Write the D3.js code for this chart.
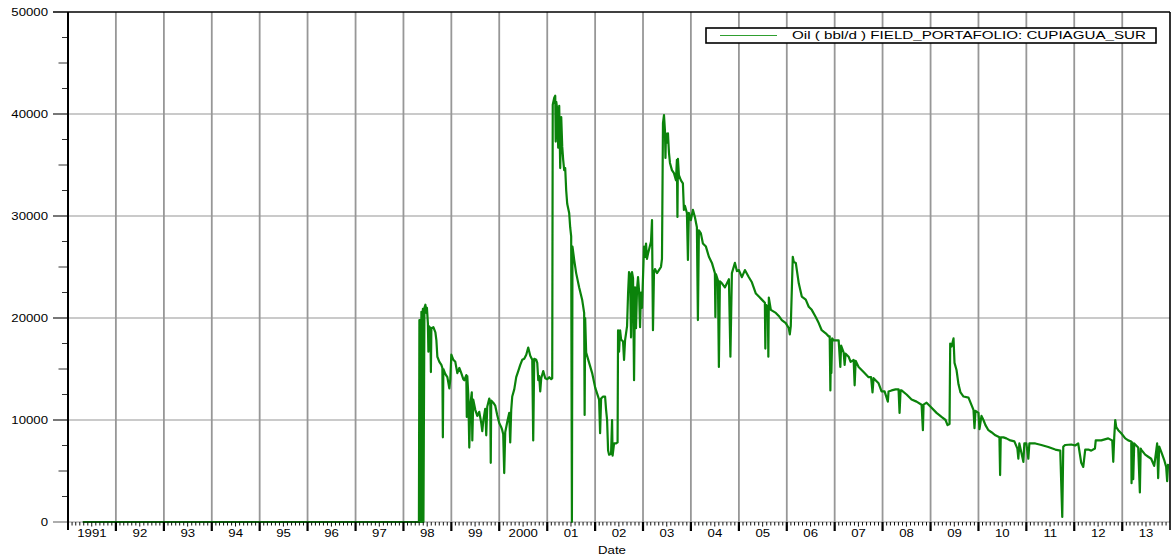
<!DOCTYPE html>
<html>
<head>
<meta charset="utf-8">
<script src="https://cdn.jsdelivr.net/npm/d3@7"></script>
<style>
  html, body { margin: 0; padding: 0; background: #fff; }
  svg { display: block; }
  text { font-family: "Liberation Sans", Arial, Helvetica, sans-serif; fill: #000; }
</style>
</head>
<body>
<svg id="chart" width="1173" height="557"></svg>
<script>
// ---------------- DATA ----------------
const seriesName = "Oil ( bbl/d ) FIELD_PORTAFOLIO: CUPIAGUA_SUR";
const axisTitle = "Date";
const yearLabels = ["1991","92","93","94","95","96","97","98","99","2000",
                    "01","02","03","04","05","06","07","08","09","10","11","12","13"];
const yTickValues = [0, 10000, 20000, 30000, 40000, 50000];

// [decimal year, oil rate bbl/d]
const oilPreProduction = [
  [1991.31, 0], [1998.323, 0]
];
const oil1998to2000 = [
  [1998.333,19800],[1998.348,19800],[1998.354,0],[1998.375,20600],[1998.385,0],
  [1998.406,20900],[1998.417,0],[1998.438,21000],[1998.458,21300],[1998.479,20500],
  [1998.490,21000],[1998.510,19500],[1998.521,16700],[1998.531,19200],[1998.563,19000],
  [1998.573,14700],[1998.583,19000],[1998.625,19100],[1998.667,18600],[1998.688,17800],
  [1998.708,16200],[1998.750,15700],[1998.792,15400],[1998.813,15100],[1998.823,8300],
  [1998.833,15000],[1998.875,14500],[1998.917,14200],[1998.958,13100],[1998.979,14000],
  [1999.000,16400],[1999.042,15900],[1999.083,15700],[1999.125,14600],[1999.167,15100],
  [1999.208,14600],[1999.250,14000],[1999.271,13900],[1999.313,14400],[1999.323,10300],
  [1999.333,14300],[1999.354,12500],[1999.375,7300],[1999.396,11500],[1999.427,12700],
  [1999.438,8000],[1999.458,12000],[1999.500,11000],[1999.542,10400],[1999.583,10800],
  [1999.625,9700],[1999.646,8900],[1999.667,9900],[1999.708,11100],[1999.729,8500],
  [1999.750,11300],[1999.792,12100],[1999.813,11600],[1999.823,5800],[1999.833,11900],
  [1999.875,11700],[1999.917,11400],[1999.958,10500],
  [2000.000,9700],[2000.042,9300],[2000.063,9000],[2000.083,8600],[2000.104,4800],
  [2000.125,8800],[2000.167,9800],[2000.208,10700],[2000.229,7800],[2000.250,11000],
  [2000.271,12300],[2000.313,13000],[2000.354,14200],[2000.396,14800],[2000.438,15400],
  [2000.479,15900],[2000.521,16000],[2000.563,16400],[2000.604,17100],[2000.646,16300],
  [2000.688,15900],[2000.708,8000],[2000.729,16000],[2000.771,15900],[2000.792,15600],
  [2000.813,13900],[2000.833,14300],[2000.854,12800],[2000.875,14100],[2000.917,14800],
  [2000.958,14100]
];
const oil2001to2003 = [
  [2001.000,14000],[2001.042,14200],[2001.083,14000],[2001.104,14100],[2001.115,40900],
  [2001.146,41600],[2001.167,41800],[2001.177,37300],[2001.188,41200],[2001.208,40500],
  [2001.229,36700],[2001.250,40800],[2001.271,34700],[2001.292,39700],[2001.313,36800],
  [2001.333,35500],[2001.354,34500],[2001.375,34700],[2001.396,32500],[2001.417,31200],
  [2001.458,30300],[2001.479,28900],[2001.500,28000],[2001.515,0],[2001.527,27000],
  [2001.563,25700],[2001.604,24400],[2001.667,23000],[2001.729,21800],[2001.771,20500],
  [2001.781,10500],[2001.792,20000],[2001.813,16600],[2001.875,15600],[2001.938,14600],
  [2002.000,13200],[2002.083,12000],[2002.104,8700],[2002.125,12100],[2002.167,12300],
  [2002.208,12300],[2002.229,11000],[2002.250,10000],[2002.271,7000],[2002.292,6600],
  [2002.333,6700],[2002.354,10000],[2002.365,6500],[2002.396,7700],[2002.438,7700],
  [2002.469,7800],[2002.479,18800],[2002.500,16700],[2002.521,18800],[2002.542,17900],
  [2002.583,17700],[2002.604,15900],[2002.625,17800],[2002.646,18500],[2002.667,19200],
  [2002.688,22400],[2002.708,24500],[2002.729,24300],[2002.750,18100],[2002.771,24500],
  [2002.792,23900],[2002.813,13900],[2002.833,23000],[2002.854,19000],[2002.875,22800],
  [2002.896,24000],[2002.917,22700],[2002.938,19100],[2002.958,22500],[2002.979,21000],
  [2003.021,27000],[2003.042,26000],[2003.063,27300],[2003.083,25800],[2003.104,26300],
  [2003.167,27500],[2003.188,29600],[2003.198,24000],[2003.208,18800],[2003.229,24400],
  [2003.250,24800],[2003.292,24400],[2003.333,24700],[2003.375,25000],[2003.396,25800],
  [2003.417,39100],[2003.438,39900],[2003.458,38400],[2003.469,35700],[2003.479,38100],
  [2003.500,37200],[2003.521,38100],[2003.542,36200],[2003.563,35200],[2003.604,34500],
  [2003.646,34200],[2003.688,33500],[2003.708,35500],[2003.719,29900],[2003.729,35600],
  [2003.750,34000],[2003.792,33500],[2003.833,33200],[2003.854,30600],[2003.875,31000],
  [2003.917,30300],[2003.938,25700],[2003.958,30300]
];
const oil2004to2008 = [
  [2004.000,29600],[2004.042,30600],[2004.083,29900],[2004.125,28900],[2004.146,19800],
  [2004.167,28600],[2004.208,28300],[2004.250,27300],[2004.313,27000],[2004.375,26000],
  [2004.438,25400],[2004.500,24400],[2004.510,20100],[2004.521,24300],[2004.563,23700],
  [2004.583,15200],[2004.604,23600],[2004.646,23400],[2004.708,23000],[2004.792,23800],
  [2004.823,16200],[2004.854,24400],[2004.917,25400],[2004.958,24600],
  [2005.000,24700],[2005.063,24000],[2005.125,24700],[2005.208,24000],[2005.271,23500],
  [2005.354,22400],[2005.417,22100],[2005.479,21800],[2005.542,21500],[2005.552,17000],
  [2005.563,21300],[2005.604,21100],[2005.615,16200],[2005.625,22000],[2005.667,20800],
  [2005.771,20500],[2005.833,20200],[2005.896,19800],[2005.979,19500],
  [2006.042,19000],[2006.063,18400],[2006.083,19200],[2006.125,26000],[2006.146,25500],
  [2006.188,25400],[2006.250,23400],[2006.313,22100],[2006.396,21800],[2006.458,21100],
  [2006.521,20800],[2006.604,20100],[2006.667,19500],[2006.729,18800],[2006.813,18500],
  [2006.875,18200],[2006.896,18200],[2006.910,12900],[2006.923,17800],[2006.931,14600],
  [2006.948,18000],[2006.979,17800],
  [2007.083,17800],[2007.118,15200],[2007.135,17300],[2007.188,16600],[2007.208,15400],
  [2007.229,16500],[2007.292,16200],[2007.333,15700],[2007.396,15900],[2007.417,13400],
  [2007.438,15800],[2007.500,15200],[2007.604,14700],[2007.708,14200],[2007.760,14200],
  [2007.790,12700],[2007.813,14100],[2007.917,13600],[2007.979,12800],
  [2008.042,12800],[2008.110,11800],[2008.125,12800],[2008.188,12900],[2008.271,13000],
  [2008.333,13000],[2008.354,10700],[2008.375,12900],[2008.396,12900],[2008.500,12500],
  [2008.604,12000],[2008.708,11800],[2008.813,11500],[2008.840,9000],[2008.854,11500],
  [2008.917,11700]
];
const oil2009to2013 = [
  [2009.021,11200],[2009.125,10700],[2009.229,10300],[2009.313,10000],[2009.354,9500],
  [2009.396,9600],[2009.410,17500],[2009.438,17200],[2009.479,18000],[2009.500,15600],
  [2009.542,14900],[2009.583,13500],[2009.625,12700],[2009.688,12300],[2009.792,12200],
  [2009.896,11000],[2009.917,9200],[2009.938,10900],
  [2010.000,10700],[2010.021,9100],[2010.063,10400],[2010.104,10000],[2010.146,9500],
  [2010.208,9000],[2010.271,8800],[2010.354,8500],[2010.438,8300],[2010.452,4600],
  [2010.465,8300],[2010.521,8300],[2010.583,8200],[2010.667,8000],[2010.750,7900],
  [2010.813,7200],[2010.833,6200],[2010.854,7700],[2010.938,5900],[2010.958,7700],
  [2011.000,7700],[2011.042,6200],[2011.063,7700],[2011.188,7700],[2011.313,7550],
  [2011.458,7350],[2011.604,7100],[2011.708,7000],[2011.750,500],[2011.771,7400],
  [2011.813,7550],[2011.938,7600],
  [2012.021,7500],[2012.083,7700],[2012.146,5800],[2012.188,5400],[2012.229,7100],
  [2012.292,7100],[2012.354,7000],[2012.431,7200],[2012.448,8000],[2012.563,8000],
  [2012.708,8200],[2012.792,8000],[2012.813,5900],[2012.833,8300],[2012.854,10000],
  [2012.875,9300],[2012.917,9000],[2012.979,8700],
  [2013.063,8200],[2013.125,8000],[2013.188,7900],[2013.194,3800],[2013.208,7800],
  [2013.229,4200],[2013.250,7700],[2013.333,7300],[2013.368,2900],[2013.385,7200],
  [2013.396,7100],[2013.479,6600],[2013.542,6400],[2013.604,6200],[2013.667,5500],
  [2013.688,6200],[2013.729,7700],[2013.750,4300],[2013.771,7400],[2013.813,6900],
  [2013.875,6100],[2013.917,5400],[2013.938,4000],[2013.958,5700]
];

// ---------------- LAYOUT ----------------
const svg = d3.select("#chart");
const L = 68, R = 1170, T = 12, B = 522;
const TEXT_SX = 1.32; // source font is horizontally stretched

const decYear = y => {
  const Y = Math.floor(y);
  const s = Date.UTC(Y, 0, 1), e = Date.UTC(Y + 1, 0, 1);
  return new Date(s + (y - Y) * (e - s));
};
const data = [].concat(oilPreProduction, oil1998to2000, oil2001to2003, oil2004to2008, oil2009to2013)
  .map(d => ({ date: decYear(d[0]), v: d[1] }));

const x = d3.scaleUtc()
  .domain([new Date(Date.UTC(1991, 0, 1)), new Date(Date.UTC(2013, 11, 31))])
  .range([L, R]);
const y = d3.scaleLinear().domain([0, 50000]).range([B, T]);

function stretchedText(g, tx, ty, str, anchor, size) {
  return g.append("text")
    .attr("transform", `translate(${tx},${ty}) scale(${TEXT_SX},1)`)
    .attr("text-anchor", anchor)
    .style("font-size", size + "px")
    .text(str);
}

// horizontal gridlines + major y ticks
const yearStarts = d3.utcYear.range(new Date(Date.UTC(1992,0,1)), new Date(Date.UTC(2014,0,1)));
svg.append("g").selectAll("line").data(yTickValues.filter(v => v > 0 && v < 50000)).join("line")
  .attr("x1", L).attr("x2", R).attr("y1", d => y(d)).attr("y2", d => y(d))
  .attr("stroke", "#b8b8b8").attr("stroke-width", 1.6);
svg.append("line").attr("x1", 53).attr("x2", L).attr("y1", y(0)).attr("y2", y(0))
  .attr("stroke", "#999").attr("stroke-width", 1.6);
svg.append("line").attr("x1", L).attr("x2", R).attr("y1", y(0)).attr("y2", y(0))
  .attr("stroke", "#b8b8b8").attr("stroke-width", 1.6);

// vertical gridlines at year boundaries
svg.append("g").selectAll("line").data(yearStarts.filter(d => x(d) < R - 2)).join("line")
  .attr("x1", d => x(d)).attr("x2", d => x(d)).attr("y1", T).attr("y2", B)
  .attr("stroke", "#979797").attr("stroke-width", 1.8);

// y axis
const yAxis = svg.append("g");
yAxis.selectAll(".maj").data(yTickValues.filter(v => v > 0 && v < 50000)).join("line")
  .attr("x1", 53).attr("x2", L).attr("y1", d => y(d)).attr("y2", d => y(d))
  .attr("stroke", "#555").attr("stroke-width", 1.6);
const minorY = d3.range(0, 50000, 2500).filter(v => v % 10000 !== 0);
yAxis.selectAll(".min").data(minorY).join("line")
  .attr("x1", d => (d % 5000 === 0) ? 58.5 : 62).attr("x2", L)
  .attr("y1", d => y(d)).attr("y2", d => y(d))
  .attr("stroke", "#333").attr("stroke-width", 1);
yTickValues.forEach(v => {
  stretchedText(yAxis, 48, y(v) + 3.5, String(v), "end", 10);
});

// top border & right border & y axis line
svg.append("line").attr("x1", 53).attr("x2", R).attr("y1", T).attr("y2", T)
  .attr("stroke", "#000").attr("stroke-width", 1.6);
svg.append("line").attr("x1", R).attr("x2", R).attr("y1", T).attr("y2", B + 8)
  .attr("stroke", "#000").attr("stroke-width", 1.6);
svg.append("line").attr("x1", L).attr("x2", L).attr("y1", T).attr("y2", B + 8)
  .attr("stroke", "#000").attr("stroke-width", 2);

// data line
svg.append("clipPath").attr("id", "clip").append("rect")
  .attr("x", L).attr("y", T).attr("width", R - L).attr("height", B - T + 2);
const line = d3.line().x(d => x(d.date)).y(d => y(d.v));
svg.append("path").datum(data)
  .attr("clip-path", "url(#clip)")
  .attr("fill", "none").attr("stroke", "#0b830b").attr("stroke-width", 2.2)
  .attr("stroke-linejoin", "round")
  .attr("d", line);
// zero segment drawn darker like the reference
svg.append("path").datum(data.slice(0, 2))
  .attr("fill", "none").attr("stroke", "#0a5a0a").attr("stroke-width", 2)
  .attr("d", line);

// x axis ticks
const xAxis = svg.append("g");
const months = d3.utcMonth.range(x.domain()[0], x.domain()[1]);
xAxis.selectAll(".mt").data(months.filter(d => d.getUTCMonth() !== 0)).join("line")
  .attr("x1", d => x(d)).attr("x2", d => x(d))
  .attr("y1", B).attr("y2", d => d.getUTCMonth() === 6 ? B + 4.5 : B + 3.5)
  .attr("stroke", "#111").attr("stroke-width", 1);
xAxis.selectAll(".yt").data(yearStarts.filter(d => x(d) <= R)).join("line")
  .attr("x1", d => x(d)).attr("x2", d => x(d)).attr("y1", B).attr("y2", B + 9)
  .attr("stroke", "#000").attr("stroke-width", 2.2);
const yearsAll = d3.utcYear.range(new Date(Date.UTC(1991,0,1)), new Date(Date.UTC(2014,0,1)));
yearsAll.forEach((d, i) => {
  const mid = x(new Date(Date.UTC(d.getUTCFullYear(), 6, 2)));
  stretchedText(xAxis, mid, 537, yearLabels[i], "middle", 10);
});
stretchedText(svg, 612, 554, axisTitle, "middle", 10);

// legend
const lg = svg.append("g");
lg.append("rect").attr("x", 706).attr("y", 28).attr("width", 450).attr("height", 15)
  .attr("fill", "#fff").attr("stroke", "#000").attr("stroke-width", 1.6);
lg.append("line").attr("x1", 720).attr("x2", 777).attr("y1", 35.5).attr("y2", 35.5)
  .attr("stroke", "#2f9f2f").attr("stroke-width", 1.2);
lg.append("text").attr("x", 792).attr("y", 39)
  .attr("textLength", 354).attr("lengthAdjust", "spacingAndGlyphs")
  .style("font-size", "10px").text(seriesName);
</script>
</body>
</html>
